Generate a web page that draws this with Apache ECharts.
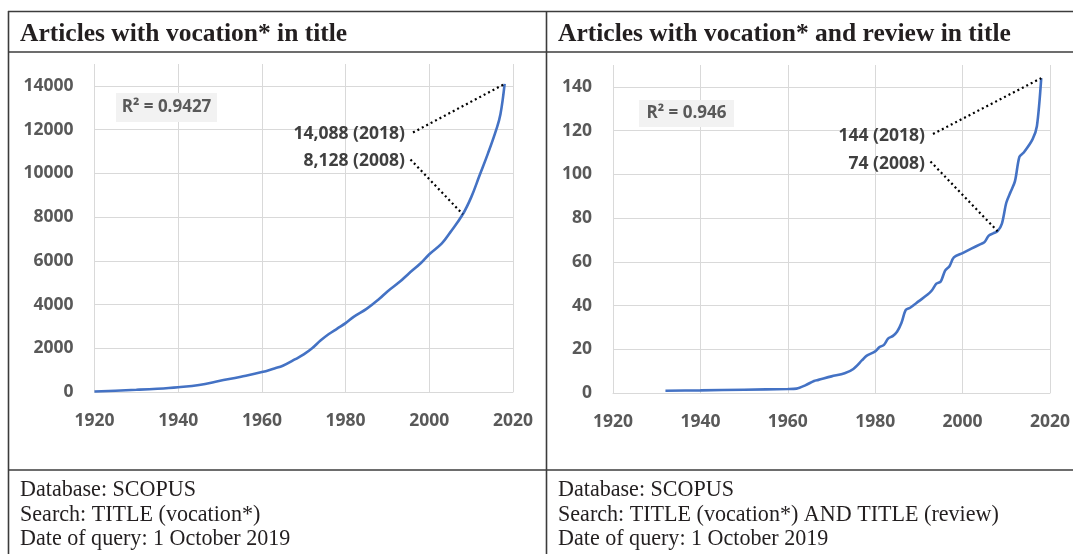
<!DOCTYPE html>
<html>
<head>
<meta charset="utf-8">
<script src="https://cdn.jsdelivr.net/npm/echarts@6/dist/echarts.min.js"></script>
<style>
html,body{margin:0;padding:0;background:#fff;}
#chart{width:1073px;height:554px;}
</style>
</head>
<body>
<div id="chart"></div>
<script>
// ---- Data ----
const yearsAll = [1920, 1925, 1930, 1935, 1940, 1945, 1950, 1955, 1960, 1963, 1965, 1968, 1970, 1972, 1974, 1976, 1978, 1980, 1982, 1985, 1988, 1990, 1993, 1995, 1998, 2000, 2003, 2005, 2008, 2010, 2012, 2014, 2016, 2017, 2018];
const countsAll = [20, 60, 100, 150, 220, 320, 510, 700, 910, 1080, 1200, 1500, 1720, 2000, 2350, 2650, 2900, 3150, 3450, 3800, 4250, 4600, 5050, 5400, 5900, 6300, 6800, 7300, 8128, 8900, 9900, 10900, 12000, 12700, 14088];

const yearsReview = [1932, 1940, 1950, 1960, 1962, 1964, 1966, 1967, 1970, 1973, 1975, 1977, 1978, 1980, 1981, 1982, 1983, 1984, 1985, 1986, 1987, 1988, 1990, 1992, 1993, 1994, 1995, 1996, 1997, 1998, 2000, 2002, 2004, 2005, 2006, 2007, 2008, 2009, 2010, 2011, 2012, 2013, 2014, 2016, 2017, 2018];
const countsReview = [1, 1.2, 1.5, 1.8, 2, 3.5, 5.5, 6, 7.6, 9, 11, 15, 17, 19, 21, 22, 25, 26, 28, 32, 38, 39, 42, 45, 47, 50, 51, 56, 58, 62, 64, 66, 68, 69, 72, 73, 74, 77.5, 87, 92, 97, 108, 110, 116, 122, 144];

const xTicks = [1920, 1940, 1960, 1980, 2000, 2020];
const titles = ['Articles with vocation* in title', 'Articles with vocation* and review in title'];
const r2Labels = ['R² = 0.9427', 'R² = 0.946'];
const notesLeft = ['Database: SCOPUS', 'Search: TITLE (vocation*)', 'Date of query: 1 October 2019'];
const notesRight = ['Database: SCOPUS', 'Search: TITLE (vocation*) AND TITLE (review)', 'Date of query: 1 October 2019'];
const annotAll = [{label: '14,088 (2018)', year: 2018, value: 14088}, {label: '8,128 (2008)', year: 2008, value: 8128}];
const annotReview = [{label: '144 (2018)', year: 2018, value: 144}, {label: '74 (2008)', year: 2008, value: 74}];

// ---- Chart ----
const chart = echarts.init(document.getElementById('chart'), null, {renderer: 'canvas'});
const GRID = '#d9d9d9';
const LBL = '#595959';
const LINE = '#4472c4';
const BORDER = '#3c3c3c';
const labelFont = {color: LBL, fontFamily: 'Open Sans', fontWeight: 'bold', fontSize: 17.5, formatter: v => String(v)};

function xAxisCfg(gi) {
  return {
    type: 'value', gridIndex: gi, min: xTicks[0], max: xTicks[xTicks.length - 1], interval: xTicks[1] - xTicks[0],
    axisLine: {show: true, lineStyle: {color: GRID, width: 1}},
    axisTick: {show: false},
    axisLabel: Object.assign({margin: 20}, labelFont),
    splitLine: {show: true, lineStyle: {color: GRID, width: 1}}
  };
}
function yAxisCfg(gi, max, interval) {
  return {
    type: 'value', gridIndex: gi, min: 0, max: max, interval: interval,
    axisLine: {show: false}, axisTick: {show: false},
    axisLabel: Object.assign({margin: 21, showMaxLabel: false}, labelFont),
    splitLine: {show: true, showMaxLine: false, lineStyle: {color: GRID, width: 1}}
  };
}
function annotLines(list, starts) {
  return list.map((a, i) => [{x: starts[i][0], y: starts[i][1]}, {coord: [a.year, a.value]}]);
}

const graphics = [];
// table borders
const lines = [
  [8, 11.5, 1073, 11.5], [8, 52, 1073, 52], [8, 470, 1073, 470],
  [8.5, 11, 8.5, 554], [546.5, 11, 546.5, 554]
];
lines.forEach(l => graphics.push({type: 'line', z: 100, shape: {x1: l[0], y1: l[1], x2: l[2], y2: l[3]}, style: {stroke: BORDER, lineWidth: 1.6}, silent: true}));
// titles
[[20, titles[0]], [558, titles[1]]].forEach(t => graphics.push({
  type: 'text', z: 100, x: t[0], y: 21,
  style: {text: t[1], fontFamily: 'Liberation Serif', fontWeight: 'bold', fontSize: 25.5, fill: '#231f20'}
}));
// notes (condensed serif look)
[[20, notesLeft], [558, notesRight]].forEach(n => n[1].forEach((s, i) => graphics.push({
  type: 'text', z: 100, x: n[0], y: 478 + i * 24.6, scaleX: 0.92,
  style: {text: s, fontFamily: 'Liberation Serif', fontSize: 24, fill: '#231f20'}
})));
// R2 boxes
[[116, 93, 101, 29, r2Labels[0]], [639, 100, 95, 27, r2Labels[1]]].forEach(b => {
  graphics.push({type: 'rect', z: 100, shape: {x: b[0], y: b[1], width: b[2], height: b[3]}, style: {fill: '#f2f2f2'}, silent: true});
  graphics.push({type: 'text', z: 101, x: b[0] + b[2] / 2, y: b[1] + b[3] / 2,
    style: {text: b[4], align: 'center', verticalAlign: 'middle', fontFamily: 'Open Sans', fontWeight: 'bold', fontSize: 17, fill: LBL}});
});
// annotation labels
[[405, 134, annotAll[0].label], [405, 161.5, annotAll[1].label], [925, 136, annotReview[0].label], [925, 164, annotReview[1].label]].forEach(a => graphics.push({
  type: 'text', z: 100, x: a[0], y: a[1],
  style: {text: a[2], align: 'right', verticalAlign: 'middle', fontFamily: 'Open Sans', fontWeight: 'bold', fontSize: 17.5, fill: '#404040'}
}));

const dotted = {color: '#000', type: [2, 3], width: 2.2};

const option = {
  animation: false,
  backgroundColor: '#fff',
  grid: [
    {left: 94.5, right: 560, top: 64, bottom: 162},
    {left: 613, right: 23, top: 65, bottom: 161}
  ],
  xAxis: [xAxisCfg(0), xAxisCfg(1)],
  yAxis: [yAxisCfg(0, 15000, 2000), yAxisCfg(1, 150, 20)],
  series: [
    {
      type: 'line', xAxisIndex: 0, yAxisIndex: 0,
      data: yearsAll.map((y, i) => [y, countsAll[i]]),
      showSymbol: false, smooth: 0.4,
      lineStyle: {color: LINE, width: 2.6},
      markLine: {silent: true, symbol: 'none', label: {show: false}, lineStyle: dotted,
        data: annotLines(annotAll, [[413, 132.5], [410.5, 159.5]])}
    },
    {
      type: 'line', xAxisIndex: 1, yAxisIndex: 1,
      data: yearsReview.map((y, i) => [y, countsReview[i]]),
      showSymbol: false, smooth: 0.3,
      lineStyle: {color: LINE, width: 2.6},
      markLine: {silent: true, symbol: 'none', label: {show: false}, lineStyle: dotted,
        data: annotLines(annotReview, [[933, 134], [930.5, 161.5]])}
    }
  ],
  graphic: graphics
};
chart.setOption(option);
</script>
</body>
</html>
